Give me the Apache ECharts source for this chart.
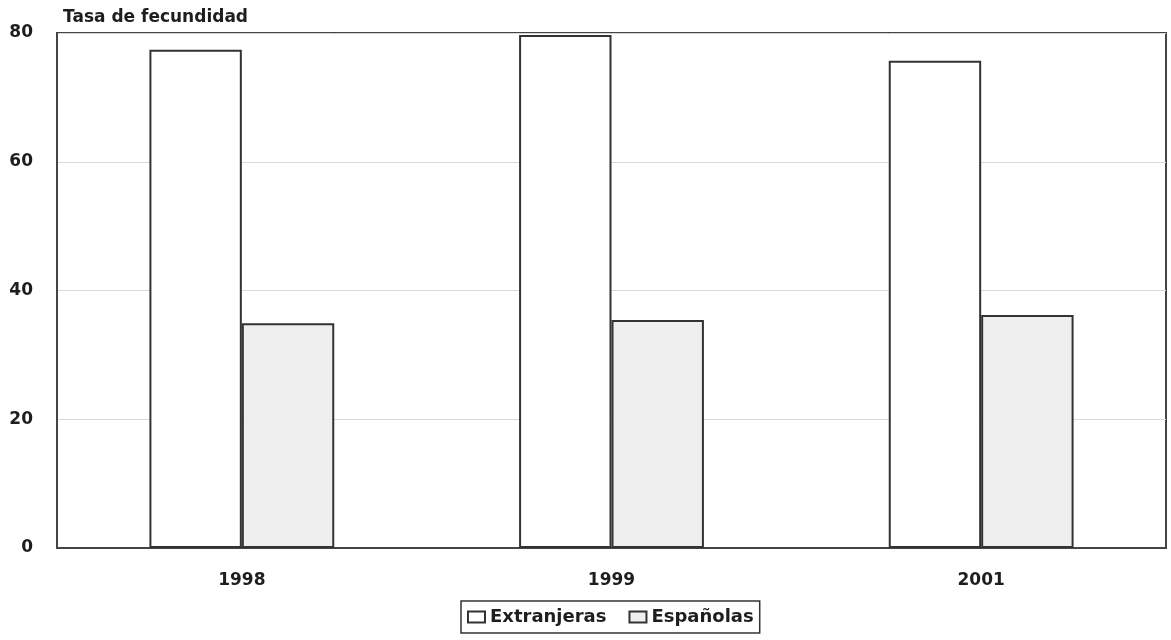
<!DOCTYPE html>
<html>
<head>
<meta charset="utf-8">
<script src="https://cdn.jsdelivr.net/npm/echarts@6/dist/echarts.min.js"></script>
<style>html,body{margin:0;padding:0;background:#fff}#c{width:1171px;height:640px}</style>
</head>
<body>
<div id="c"></div>
<script>
const categories = ['1998', '1999', '2001'];
const extranjeras = [77.4, 79.7, 75.7];
const espanolas = [34.9, 35.4, 36.2];
const seriesNames = ['Extranjeras', 'Españolas'];
const yTitle = 'Tasa de fecundidad';

const font = '"DejaVu Sans", "Liberation Sans", Arial, sans-serif';
const chart = echarts.init(document.getElementById('c'), null, {renderer: 'canvas'});
chart.setOption({
  backgroundColor: '#fff',
  animation: false,
  textStyle: {fontFamily: font},
  grid: {left: 57, right: 5, top: 33, bottom: 92, show: true, borderColor: '#444', borderWidth: 2, backgroundColor: 'transparent'},
  title: {text: yTitle, left: 58, top: 4, textStyle: {fontFamily: font, fontWeight: 'bold', fontSize: 17, color: '#1e1e1e'}},
  legend: {
    data: seriesNames, bottom: 7, left: 461, icon: 'rect', itemWidth: 17, itemHeight: 11, itemGap: 22,
    borderColor: '#333', borderWidth: 1.5, padding: [7, 6, 7, 6],
    textStyle: {fontFamily: font, fontWeight: 'bold', fontSize: 18, color: '#1e1e1e'}
  },
  xAxis: {
    type: 'category', data: categories,
    axisLine: {show: true, lineStyle: {color: '#444', width: 2}},
    axisTick: {show: false},
    axisLabel: {fontFamily: font, fontWeight: 'bold', fontSize: 17, color: '#1e1e1e', margin: 24}
  },
  yAxis: {
    type: 'value', min: 0, max: 80, interval: 20,
    axisLine: {show: true, lineStyle: {color: '#444', width: 2}},
    axisTick: {show: false},
    splitLine: {lineStyle: {color: '#d8d8d8', width: 1}},
    axisLabel: {fontFamily: font, fontWeight: 'bold', fontSize: 17, color: '#1e1e1e', margin: 24}
  },
  series: [
    {name: seriesNames[0], type: 'bar', data: extranjeras, barGap: '0%', barCategoryGap: '50%',
     itemStyle: {color: '#ffffff', borderColor: '#333', borderWidth: 2}},
    {name: seriesNames[1], type: 'bar', data: espanolas, barGap: '0%', barCategoryGap: '50%',
     itemStyle: {color: '#efefef', borderColor: '#333', borderWidth: 2}}
  ]
});
</script>
</body>
</html>
